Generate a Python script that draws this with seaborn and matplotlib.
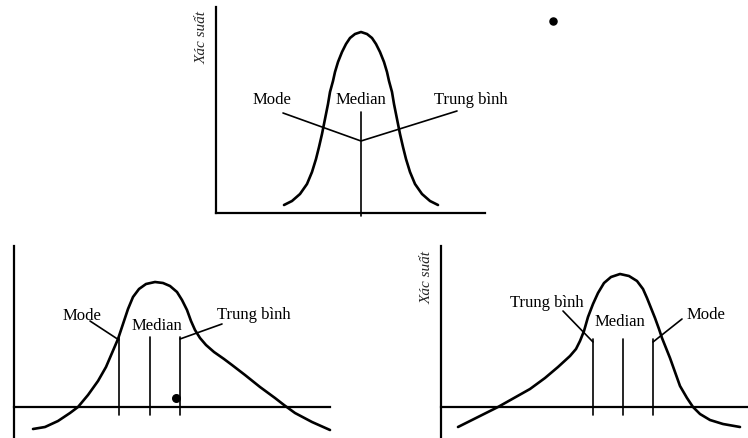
import matplotlib
matplotlib.use("Agg")
import matplotlib.pyplot as plt
import pandas as pd
import seaborn as sns

W, H = 748, 439

# symmetric curve (top)
sym_x = [68, 76, 84, 91, 96, 100, 103, 106, 109, 112, 114, 117, 119, 122, 126,
         130, 134, 139, 145, 151, 156, 160, 164, 168, 171, 173, 176, 178, 181,
         184, 187, 190, 194, 199, 206, 214, 222]
sym_y = [8, 12, 19, 29, 41, 54, 66, 79, 94, 109, 121, 132, 141, 151, 161,
         169, 175, 179, 181, 179, 175, 169, 161, 151, 141, 132, 121, 109, 94,
         79, 66, 54, 41, 29, 19, 12, 8]

# right-skewed curve (bottom left)
right_x = [19, 31, 44, 56, 64, 74, 84, 92, 98, 104, 109, 114, 119, 125, 132,
           141, 149, 156, 163, 168, 173, 177, 181, 186, 192, 200, 210, 218,
           231, 246, 261, 270, 281, 298, 316]
right_y = [-22, -20, -14, -6, 0, 12, 26, 40, 54, 68, 83, 98, 110, 118, 123,
           125, 124, 121, 115, 107, 97, 86, 77, 69, 62, 55, 48, 42, 32, 20, 9,
           2, -6, -15, -23]

# left-skewed curve (bottom right)
left_x = [17, 37, 57, 73, 89, 104, 117, 129, 135, 139, 143, 147, 152, 157,
          163, 170, 179, 188, 196, 202, 206, 210, 214, 218, 221, 225, 229,
          234, 239, 246, 252, 259, 269, 282, 299]
left_y = [-20, -10, 0, 9, 18, 29, 40, 51, 58, 66, 76, 90, 103, 114, 124, 130,
          133, 131, 126, 118, 109, 99, 89, 78, 69, 59, 49, 35, 21, 9, 0, -7,
          -13, -17, -20]

sym_marks = {"Median": 145}
right_marks = {"Mode": 105, "Median": 136, "Trung bình": 166}
left_marks = {"Trung bình": 152, "Median": 182, "Mode": 212}

sns.set_style("white")
plt.rcParams["font.family"] = ["Liberation Serif", "DejaVu Serif"]

fig = plt.figure(figsize=(W / 100, H / 100), dpi=100)


def make_axes(px0, px1, py0, py1):
    return fig.add_axes([px0 / W, 1 - py1 / H, (px1 - px0) / W, (py1 - py0) / H])


def style_axes(ax, xlim, ylim, inner_axis):
    ax.set_xlim(*xlim)
    ax.set_ylim(*ylim)
    ax.set_xticks([])
    ax.set_yticks([])
    for s in ["top", "right"]:
        ax.spines[s].set_visible(False)
    for s in ["left", "bottom"]:
        ax.spines[s].set_linewidth(1.6)
        ax.spines[s].set_color("black")
    if inner_axis:
        ax.spines["bottom"].set_position(("data", 0))
    ax.set_xlabel("")
    ax.set_ylabel("")


def draw_curve(ax, xs, ys):
    df = pd.DataFrame({"x": xs, "y": ys})
    sns.lineplot(data=df, x="x", y="y", ax=ax, sort=False, estimator=None,
                 color="black", lw=1.9, clip_on=False,
                 solid_joinstyle="round", solid_capstyle="round")


txt = dict(fontsize=12, color="black", ha="center", va="center")
ylab = dict(fontsize=11, style="italic", rotation=90, ha="center", va="center")
thin = dict(color="black", lw=1.2)

# top panel
ax = make_axes(216, 485, 8, 214)
draw_curve(ax, sym_x, sym_y)
mx = sym_marks["Median"]
ax.plot([mx, mx], [101, -3], clip_on=False, **thin)
ax.plot([67, mx, 241], [100, 72, 102], **thin)
ax.text(56, 114, "Mode", **txt)
ax.text(mx, 114, "Median", **txt)
ax.text(255, 114, "Trung bình", **txt)
ax.text(-14, 176, "Xác suất", **ylab)
ax.scatter([337], [192], s=26, color="black", clip_on=False)
style_axes(ax, (0, 269), (0, 206), False)

# bottom left panel
ax = make_axes(14, 330, 247, 439)
draw_curve(ax, right_x, right_y)
for name, xv in right_marks.items():
    ax.plot([xv, xv], [70, -8], **thin)
ax.plot([76, right_marks["Mode"]], [86, 67], **thin)
ax.plot([right_marks["Trung bình"], 208], [68, 83], **thin)
ax.text(68, 92, "Mode", **txt)
ax.text(143, 82, "Median", **txt)
ax.text(240, 93, "Trung bình", **txt)
ax.scatter([162], [9], s=30, color="black", marker="o")
style_axes(ax, (0, 316), (-31, 161), True)

# bottom right panel
ax = make_axes(441, 748, 247, 439)
draw_curve(ax, left_x, left_y)
for name, xv in left_marks.items():
    ax.plot([xv, xv], [68, -8], **thin)
ax.plot([122, left_marks["Trung bình"]], [96, 65], **thin)
ax.plot([left_marks["Mode"], 241], [65, 88], **thin)
ax.text(106, 105, "Trung bình", **txt)
ax.text(179, 86, "Median", **txt)
ax.text(265, 93, "Mode", **txt)
ax.text(-14, 130, "Xác suất", **ylab)
style_axes(ax, (0, 307), (-31, 161), True)

fig.savefig("out.png", dpi=100)
